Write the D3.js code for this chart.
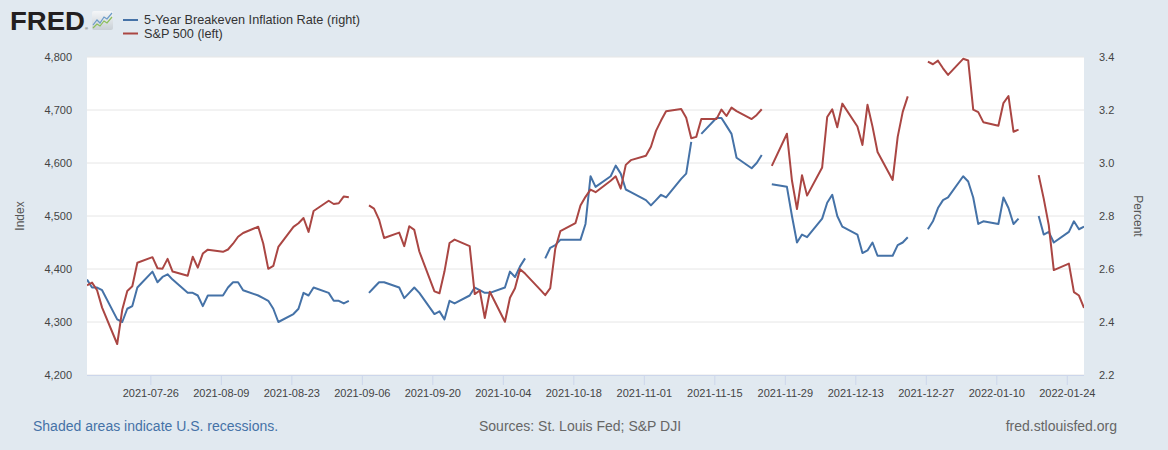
<!DOCTYPE html>
<html lang="en">
<head>
    <meta charset="UTF-8">
    <script src="https://d3js.org/d3.v7.min.js"></script>
    <title>S&amp;P 500 and 5-Year Breakeven Inflation Rate</title>
    <style>
        body { margin: 0; background: #e1e9f0; }
        svg { display: block; font-family: "Liberation Sans", Arial, sans-serif; }
    </style>
</head>
<body>
<div id="viz"></div>
<script>
    // trading days shown on the chart (holidays kept as gaps)
    const dates = [
        "2021-07-13", "2021-07-14", "2021-07-15", "2021-07-16", "2021-07-19", "2021-07-20", "2021-07-21",
        "2021-07-22", "2021-07-23", "2021-07-26", "2021-07-27", "2021-07-28", "2021-07-29", "2021-07-30",
        "2021-08-02", "2021-08-03", "2021-08-04", "2021-08-05", "2021-08-06", "2021-08-09", "2021-08-10",
        "2021-08-11", "2021-08-12", "2021-08-13", "2021-08-16", "2021-08-17", "2021-08-18", "2021-08-19",
        "2021-08-20", "2021-08-23", "2021-08-24", "2021-08-25", "2021-08-26", "2021-08-27", "2021-08-30",
        "2021-08-31",
        "2021-09-01", "2021-09-02", "2021-09-03", "2021-09-06", "2021-09-07", "2021-09-08", "2021-09-09",
        "2021-09-10", "2021-09-13", "2021-09-14", "2021-09-15", "2021-09-16", "2021-09-17", "2021-09-20",
        "2021-09-21", "2021-09-22", "2021-09-23", "2021-09-24", "2021-09-27", "2021-09-28", "2021-09-29",
        "2021-09-30",
        "2021-10-01", "2021-10-04", "2021-10-05", "2021-10-06", "2021-10-07", "2021-10-08", "2021-10-11",
        "2021-10-12", "2021-10-13", "2021-10-14", "2021-10-15", "2021-10-18", "2021-10-19", "2021-10-20",
        "2021-10-21", "2021-10-22", "2021-10-25", "2021-10-26", "2021-10-27", "2021-10-28", "2021-10-29",
        "2021-11-01", "2021-11-02", "2021-11-03", "2021-11-04", "2021-11-05", "2021-11-08", "2021-11-09",
        "2021-11-10", "2021-11-11", "2021-11-12", "2021-11-15", "2021-11-16", "2021-11-17", "2021-11-18",
        "2021-11-19", "2021-11-22", "2021-11-23", "2021-11-24", "2021-11-25", "2021-11-26", "2021-11-29",
        "2021-11-30",
        "2021-12-01", "2021-12-02", "2021-12-03", "2021-12-06", "2021-12-07", "2021-12-08", "2021-12-09",
        "2021-12-10", "2021-12-13", "2021-12-14", "2021-12-15", "2021-12-16", "2021-12-17", "2021-12-20",
        "2021-12-21", "2021-12-22", "2021-12-23", "2021-12-24", "2021-12-27", "2021-12-28", "2021-12-29",
        "2021-12-30", "2021-12-31",
        "2022-01-03", "2022-01-04", "2022-01-05", "2022-01-06", "2022-01-07", "2022-01-10", "2022-01-11",
        "2022-01-12", "2022-01-13", "2022-01-14", "2022-01-17", "2022-01-18", "2022-01-19", "2022-01-20",
        "2022-01-21", "2022-01-24", "2022-01-25", "2022-01-26", "2022-01-27"
    ];

    // S&P 500 (left axis, index)
    const sp500 = [
        4369.21, 4374.30, 4360.03, 4327.16, 4258.49, 4323.06, 4358.69, 4367.48, 4411.79, 4422.30, 4401.46, 4400.64, 4419.15, 4395.26,
        4387.16, 4423.15, 4402.66, 4429.10, 4436.52, 4432.35, 4436.75, 4447.70, 4460.83, 4468.00, 4479.71, 4448.08, 4400.27, 4405.80,
        4441.67, 4479.53, 4486.23, 4496.19, 4470.00, 4509.37, 4528.79, 4522.68,
        4524.09, 4536.95, 4535.43, null, 4520.03, 4514.07, 4493.28, 4458.58, 4468.73, 4443.05, 4480.70, 4473.75, 4432.99, 4357.73,
        4354.19, 4395.64, 4448.98, 4455.48, 4443.11, 4352.63, 4359.46, 4307.54,
        4357.04, 4300.46, 4345.72, 4363.55, 4399.76, 4391.34, 4361.19, 4350.65, 4363.80, 4438.26, 4471.37, 4486.46, 4519.63, 4536.19,
        4549.78, 4544.90, 4566.48, 4574.79, 4551.68, 4596.42, 4605.38,
        4613.67, 4630.65, 4660.57, 4680.06, 4697.53, 4701.70, 4685.25, 4646.71, 4649.27, 4682.85, 4682.80, 4700.90, 4688.67, 4704.54,
        4697.96, 4682.94, 4690.70, 4701.46, null, 4594.62, 4655.27, 4567.00,
        4513.04, 4577.10, 4538.43, 4591.67, 4686.75, 4701.21, 4667.45, 4712.02, 4668.97, 4634.09, 4709.85, 4668.67, 4620.64, 4568.02,
        4649.23, 4696.56, 4725.79, null, 4791.19, 4786.35, 4793.06, 4778.73, 4766.18,
        4796.56, 4793.54, 4700.58, 4696.05, 4677.03, 4670.29, 4713.07, 4726.35, 4659.03, 4662.85, null, 4577.11, 4532.76, 4482.73,
        4397.94, 4410.13, 4356.45, 4349.93, 4326.51
    ];

    // 5-Year Breakeven Inflation Rate (right axis, percent)
    const breakeven = [
        2.56, 2.53, 2.53, 2.52, 2.41, 2.40, 2.45, 2.46, 2.53, 2.59, 2.55, 2.57, 2.58, 2.56,
        2.51, 2.51, 2.50, 2.46, 2.50, 2.50, 2.53, 2.55, 2.55, 2.52, 2.50, 2.49, 2.48, 2.45,
        2.40, 2.43, 2.45, 2.51, 2.50, 2.53, 2.51, 2.48,
        2.48, 2.47, 2.48, null, 2.51, 2.53, 2.55, 2.55, 2.53, 2.49, 2.51, 2.53, 2.51, 2.43,
        2.44, 2.41, 2.48, 2.47, 2.50, 2.53, 2.52, 2.51,
        2.51, 2.53, 2.59, 2.57, 2.61, 2.64, null, 2.64, 2.68, 2.69, 2.71, 2.71, 2.71, 2.77,
        2.95, 2.91, 2.95, 2.99, 2.96, 2.90, 2.89,
        2.86, 2.84, 2.86, 2.88, 2.87, 2.94, 2.96, 3.08, null, 3.11, 3.17, 3.17, 3.14, 3.11,
        3.02, 2.98, 3.00, 3.03, null, 2.92, 2.91, 2.80,
        2.70, 2.73, 2.72, 2.79, 2.85, 2.88, 2.80, 2.76, 2.73, 2.66, 2.67, 2.70, 2.65, 2.65,
        2.69, 2.70, 2.72, null, 2.75, 2.78, 2.83, 2.86, 2.87,
        2.95, 2.93, 2.87, 2.77, 2.78, 2.77, 2.87, 2.83, 2.77, 2.79, null, 2.80, 2.73, 2.74,
        2.70, 2.74, 2.78, 2.75, 2.76
    ];

    const xTicks = ["2021-07-26", "2021-08-09", "2021-08-23", "2021-09-06", "2021-09-20", "2021-10-04", "2021-10-18",
        "2021-11-01", "2021-11-15", "2021-11-29", "2021-12-13", "2021-12-27", "2022-01-10", "2022-01-24"];
    const leftTicks = [4200, 4300, 4400, 4500, 4600, 4700, 4800];
    const rightTicks = [2.2, 2.4, 2.6, 2.8, 3.0, 3.2, 3.4];

    const W = 1168, H = 450;
    const margin = {top: 57, right: 84, bottom: 75, left: 87},
        width = W - margin.left - margin.right,
        height = H - margin.top - margin.bottom;

    const parse = d3.utcParse("%Y-%m-%d");
    // observations sit a little after midnight relative to the axis ticks
    const stamp = s => d3.utcHour.offset(parse(s), 10);

    const rows = dates.map((d, i) => ({date: stamp(d), sp: sp500[i], be: breakeven[i]}));

    const svg = d3.select("#viz")
        .append("svg")
        .attr("width", W)
        .attr("height", H);

    // ---- header: logo + legend
    const head = svg.append("g");
    head.append("text")
        .attr("x", 10)
        .attr("y", 29.5)
        .attr("textLength", 75)
        .attr("lengthAdjust", "spacingAndGlyphs")
        .style("font-size", "25px")
        .style("font-weight", "bold")
        .style("fill", "#231f20")
        .text("FRED");
    head.append("text")
        .attr("x", 85)
        .attr("y", 30)
        .style("font-size", "4px")
        .style("fill", "#231f20")
        .text("®");

    const grad = svg.append("defs").append("linearGradient")
        .attr("id", "logoBg")
        .attr("x1", 0).attr("y1", 0).attr("x2", 0).attr("y2", 1);
    grad.append("stop").attr("offset", "0%").attr("stop-color", "#f4f6f8");
    grad.append("stop").attr("offset", "100%").attr("stop-color", "#c9d0d6");
    head.append("rect")
        .attr("x", 92).attr("y", 11)
        .attr("width", 21).attr("height", 19)
        .attr("rx", 2)
        .style("fill", "url(#logoBg)");
    head.append("polyline")
        .attr("points", "93,25 97,20 100,23 104,17 107,19 112,13")
        .style("fill", "none").style("stroke", "#6b9bc8").style("stroke-width", 1.2);
    head.append("polyline")
        .attr("points", "93,28 97,24 100,26 104,21 107,23 112,17")
        .style("fill", "none").style("stroke", "#8cbf5a").style("stroke-width", 1.2);

    const legend = [
        {label: "5-Year Breakeven Inflation Rate (right)", color: "#4572a7", y: 20},
        {label: "S&P 500 (left)", color: "#aa4643", y: 33.5}
    ];
    const lg = head.selectAll(".lg")
        .data(legend)
        .join("g")
        .attr("class", "lg");
    lg.append("line")
        .attr("x1", 123).attr("x2", 138)
        .attr("y1", d => d.y).attr("y2", d => d.y)
        .style("stroke", d => d.color)
        .style("stroke-width", 2);
    lg.append("text")
        .attr("x", 144)
        .attr("y", d => d.y + 4.3)
        .style("font-size", "12.7px")
        .style("fill", "#333333")
        .text(d => d.label);

    // ---- plot
    const g = svg.append("g")
        .attr("transform", `translate(${margin.left}, ${margin.top})`);

    const x = d3.scaleUtc()
        .domain(d3.extent(rows, d => d.date))
        .range([0, width]);
    const yLeft = d3.scaleLinear()
        .domain([4200, 4800])
        .range([height, 0]);
    const yRight = d3.scaleLinear()
        .domain([2.2, 3.4])
        .range([height, 0]);

    g.append("rect")
        .attr("width", width)
        .attr("height", height)
        .style("fill", "#ffffff");

    g.append("clipPath")
        .attr("id", "plotClip")
        .append("rect")
        .attr("width", width)
        .attr("height", height);

    // horizontal grid
    g.append("g")
        .selectAll("line")
        .data(leftTicks)
        .join("line")
        .attr("x1", 0).attr("x2", width)
        .attr("y1", d => yLeft(d)).attr("y2", d => yLeft(d))
        .style("stroke", "#e6e6e6")
        .style("stroke-width", 1);

    // left axis
    const leftAxis = g.append("g")
        .call(d3.axisLeft(yLeft).tickValues(leftTicks).tickFormat(d3.format(",")).tickSize(0).tickPadding(15));
    leftAxis.select(".domain").remove();
    leftAxis.selectAll("text")
        .style("font-size", "11px")
        .style("fill", "#444444")
        .style("font-family", "\"Liberation Sans\", Arial, sans-serif");

    // right axis
    const rightAxis = g.append("g")
        .attr("transform", `translate(${width}, 0)`)
        .call(d3.axisRight(yRight).tickValues(rightTicks).tickFormat(d3.format(".1f")).tickSize(0).tickPadding(15));
    rightAxis.select(".domain").remove();
    rightAxis.selectAll("text")
        .style("font-size", "11px")
        .style("fill", "#444444")
        .style("font-family", "\"Liberation Sans\", Arial, sans-serif");

    // bottom axis
    const bottomAxis = g.append("g")
        .attr("transform", `translate(0, ${height})`)
        .call(d3.axisBottom(x).tickValues(xTicks.map(parse)).tickFormat(d3.utcFormat("%Y-%m-%d")).tickSize(10).tickPadding(4));
    bottomAxis.select(".domain")
        .attr("d", `M0,0.5H${width}`)
        .style("stroke", "#ccd6eb");
    bottomAxis.selectAll(".tick line")
        .style("stroke", "#ccd6eb");
    bottomAxis.selectAll("text")
        .style("font-size", "11px")
        .style("fill", "#444444")
        .style("font-family", "\"Liberation Sans\", Arial, sans-serif");

    // axis titles
    svg.append("text")
        .attr("transform", "translate(24, 216) rotate(-90)")
        .attr("text-anchor", "middle")
        .style("font-size", "12px")
        .style("fill", "#555555")
        .text("Index");
    svg.append("text")
        .attr("transform", "translate(1134, 216) rotate(90)")
        .attr("text-anchor", "middle")
        .style("font-size", "12px")
        .style("fill", "#555555")
        .text("Percent");

    // lines
    const lineSp = d3.line()
        .defined(d => d.sp != null)
        .x(d => x(d.date))
        .y(d => yLeft(d.sp));
    const lineBe = d3.line()
        .defined(d => d.be != null)
        .x(d => x(d.date))
        .y(d => yRight(d.be));

    const lines = g.append("g").attr("clip-path", "url(#plotClip)");
    lines.append("path")
        .datum(rows)
        .attr("d", lineBe)
        .style("fill", "none")
        .style("stroke", "#4572a7")
        .style("stroke-width", 2)
        .style("stroke-linejoin", "round");
    lines.append("path")
        .datum(rows)
        .attr("d", lineSp)
        .style("fill", "none")
        .style("stroke", "#aa4643")
        .style("stroke-width", 2)
        .style("stroke-linejoin", "round");

    // ---- footer
    svg.append("text")
        .attr("x", 33)
        .attr("y", 431)
        .style("font-size", "14px")
        .style("fill", "#4572a7")
        .text("Shaded areas indicate U.S. recessions.");
    svg.append("text")
        .attr("x", 580)
        .attr("y", 431)
        .attr("text-anchor", "middle")
        .style("font-size", "14px")
        .style("fill", "#666666")
        .text("Sources: St. Louis Fed; S&P DJI");
    svg.append("text")
        .attr("x", 1117)
        .attr("y", 431)
        .attr("text-anchor", "end")
        .style("font-size", "14px")
        .style("fill", "#666666")
        .text("fred.stlouisfed.org");
</script>
</body>
</html>
